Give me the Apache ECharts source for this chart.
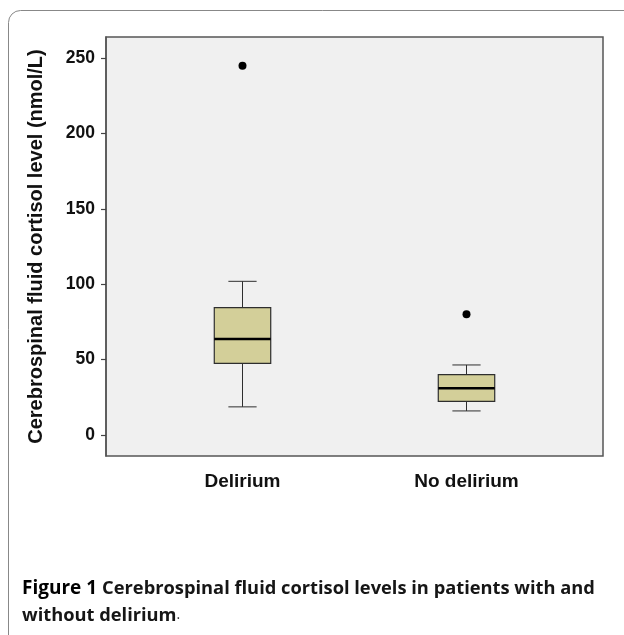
<!DOCTYPE html>
<html>
<head>
<meta charset="utf-8">
<script src="https://cdn.jsdelivr.net/npm/echarts@6/dist/echarts.min.js"></script>
<style>
  html, body { margin: 0; padding: 0; background: #fff; }
  #chart { width: 624px; height: 635px; }
</style>
</head>
<body>
<div id="chart"></div>
<script>
// box statistics (nmol/L)
const categories = ['Delirium', 'No delirium'];
const lowerWhisker = [18.6, 15.9];
const quartile1 = [47.5, 22.3];
const medians = [63.7, 30.9];
const quartile3 = [84.4, 40.0];
const upperWhisker = [101.9, 46.4];
const outlierCategory = [0, 1];
const outlierValues = [245, 80];
const yTicks = [0, 50, 100, 150, 200, 250];

const FONT = "'Liberation Sans', Arial, sans-serif";
const CAP_FONT = "'Open Sans', 'Noto Sans', sans-serif";

const boxData = categories.map((c, i) => [
  i, lowerWhisker[i], quartile1[i], medians[i], quartile3[i], upperWhisker[i]
]);
const outlierData = outlierValues.map((v, i) => [outlierCategory[i], v]);

function renderBox(params, api) {
  const x = api.value(0);
  const lo = api.coord([x, api.value(1)]);
  const q1 = api.coord([x, api.value(2)]);
  const md = api.coord([x, api.value(3)]);
  const q3 = api.coord([x, api.value(4)]);
  const hi = api.coord([x, api.value(5)]);
  const band = api.size([1, 0])[0];
  const half = band * 0.126;
  const cap = half / 2;
  const cx = lo[0];
  const pen = { stroke: '#2e2e2e', lineWidth: 1 };
  return {
    type: 'group',
    children: [
      { type: 'line', shape: { x1: cx, y1: hi[1], x2: cx, y2: q3[1] }, style: pen },
      { type: 'line', shape: { x1: cx, y1: q1[1], x2: cx, y2: lo[1] }, style: pen },
      { type: 'line', shape: { x1: cx - cap, y1: hi[1], x2: cx + cap, y2: hi[1] }, style: pen },
      { type: 'line', shape: { x1: cx - cap, y1: lo[1], x2: cx + cap, y2: lo[1] }, style: pen },
      {
        type: 'rect',
        shape: { x: cx - half, y: q3[1], width: half * 2, height: q1[1] - q3[1] },
        style: { fill: '#d3cf99', stroke: '#2e2e2e', lineWidth: 1.2 }
      },
      { type: 'line', shape: { x1: cx - half, y1: md[1], x2: cx + half, y2: md[1] }, style: { stroke: '#000', lineWidth: 2.5 } }
    ]
  };
}

const chart = echarts.init(document.getElementById('chart'));
const yMin = -14, yMax = 264;

chart.setOption({
  animation: false,
  backgroundColor: '#fff',
  graphic: [{
    type: 'rect',
    shape: { x: 8.5, y: 10.5, width: 700, height: 700, r: 12 },
    style: { fill: 'none', stroke: '#888', lineWidth: 1 },
    silent: true
  }],
  title: {
    left: 22,
    top: 575,
    padding: 0,
    text: '{b|Figure 1} {r|Cerebrospinal fluid cortisol levels in patients with and}\n{r|without delirium}{p|.}',
    textStyle: {
      rich: {
        b: { fontFamily: CAP_FONT, fontWeight: 'bold', fontSize: 19, color: '#000', lineHeight: 27 },
        r: { fontFamily: CAP_FONT, fontWeight: 'bold', fontSize: 18.3, color: '#161616', lineHeight: 27 },
        p: { fontFamily: CAP_FONT, fontWeight: 'normal', fontSize: 14, color: '#333', lineHeight: 27 }
      }
    }
  },
  grid: [
    { left: 106, right: 21, top: 37, bottom: 179, show: true, backgroundColor: '#f0f0f0', borderColor: '#555', borderWidth: 1.5 },
    { left: 130.5, right: 45.5, top: 37, bottom: 179 }
  ],
  xAxis: [
    { gridIndex: 0, type: 'value', show: false, min: 0, max: 1 },
    {
      gridIndex: 1,
      type: 'category',
      data: categories,
      axisLine: { show: false },
      axisTick: { show: false },
      axisLabel: { margin: 16, fontFamily: FONT, fontWeight: 'bold', fontSize: 19, color: '#111' }
    }
  ],
  yAxis: [
    {
      gridIndex: 0,
      type: 'value',
      min: yMin,
      max: yMax,
      name: 'Cerebrospinal fluid cortisol level (nmol/L)',
      nameLocation: 'middle',
      nameRotate: 90,
      nameGap: 60,
      nameTextStyle: { fontFamily: FONT, fontWeight: 'bold', fontSize: 20, color: '#111' },
      axisLine: { show: true, lineStyle: { color: '#555', width: 1.5 } },
      axisTick: { show: true, length: 5, customValues: yTicks, lineStyle: { color: '#444', width: 1.2 } },
      axisLabel: { customValues: yTicks, margin: 11, fontFamily: FONT, fontWeight: 'bold', fontSize: 17.5, color: '#111' },
      splitLine: { show: false }
    },
    { gridIndex: 1, type: 'value', min: yMin, max: yMax, show: false }
  ],
  series: [
    {
      type: 'custom',
      xAxisIndex: 1,
      yAxisIndex: 1,
      renderItem: renderBox,
      encode: { x: 0, y: [1, 2, 3, 4, 5] },
      data: boxData
    },
    {
      type: 'scatter',
      xAxisIndex: 1,
      yAxisIndex: 1,
      symbolSize: 8,
      itemStyle: { color: '#000', opacity: 1 },
      data: outlierData
    }
  ]
});
</script>
</body>
</html>
